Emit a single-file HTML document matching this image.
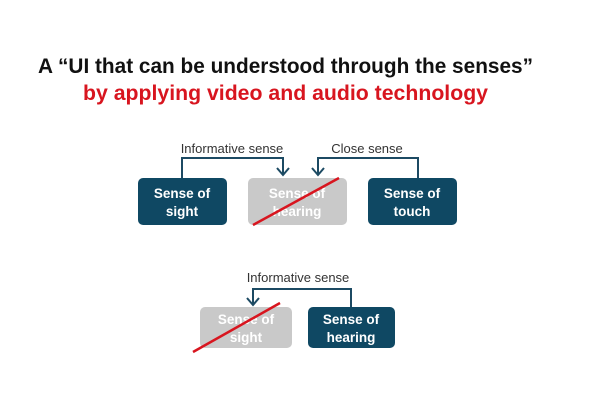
<!DOCTYPE html>
<html><head><meta charset="utf-8"><style>html,body{margin:0;padding:0;background:#fff}svg{display:block}</style></head>
<body>
<svg width="600" height="400" viewBox="0 0 600 400" xmlns="http://www.w3.org/2000/svg" font-family="Liberation Sans, sans-serif">
<rect width="600" height="400" fill="#fff"/>
<text x="38" y="73" font-size="21" font-weight="bold" fill="#111" textLength="495" lengthAdjust="spacingAndGlyphs">A “UI that can be understood through the senses”</text>
<text x="83" y="100" font-size="21" font-weight="bold" fill="#d8151f" textLength="405" lengthAdjust="spacingAndGlyphs">by applying video and audio technology</text>

<g fill="none" stroke="#1c4a63" stroke-width="2">
<polyline points="182,178 182,158 283,158 283,174"/>
<polyline points="277,168 283,175 289,168"/>
<polyline points="418,178 418,158 318,158 318,174"/>
<polyline points="312,168 318,175 324,168"/>
<polyline points="351,307 351,289 253,289 253,304"/>
<polyline points="247,298 253,305 259,298"/>
</g>
<g font-size="13" fill="#333" text-anchor="middle">
<text x="232" y="153">Informative sense</text>
<text x="367" y="153">Close sense</text>
<text x="298" y="282">Informative sense</text>
</g>

<rect x="138" y="178" width="89" height="47" rx="5" fill="#0f4863"/>
<rect x="248" y="178" width="99" height="47" rx="5" fill="#c9c9c9"/>
<rect x="368" y="178" width="89" height="47" rx="5" fill="#0f4863"/>
<rect x="200" y="307" width="92" height="41" rx="5" fill="#c9c9c9"/>
<rect x="308" y="307" width="87" height="41" rx="5" fill="#0f4863"/>

<g font-size="13.5" font-weight="bold" fill="#fff" text-anchor="middle">
<text x="182" y="198">Sense of</text><text x="182" y="216">sight</text>
<text x="297" y="198">Sense of</text><text x="297" y="216">hearing</text>
<text x="412" y="198">Sense of</text><text x="412" y="216">touch</text>
<text x="246" y="324">Sense of</text><text x="246" y="342">sight</text>
<text x="351" y="324">Sense of</text><text x="351" y="342">hearing</text>
</g>
<g stroke="#d8151f" stroke-width="2.5">
<line x1="253" y1="225" x2="339" y2="178"/>
<line x1="193" y1="352" x2="280" y2="303"/>
</g>
</svg>
</body></html>
